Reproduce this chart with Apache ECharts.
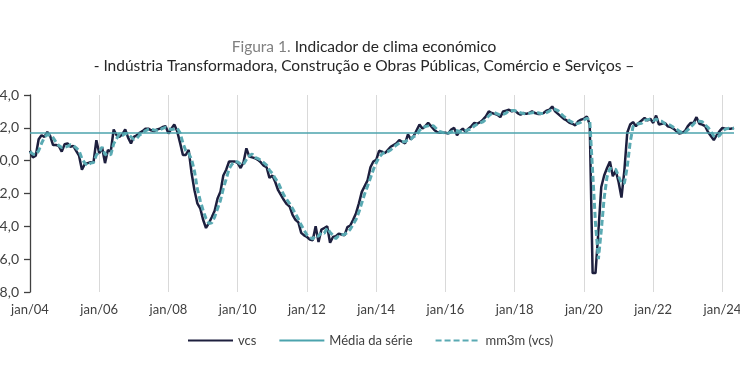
<!DOCTYPE html>
<html>
<head>
<meta charset="utf-8">
<script src="https://cdn.jsdelivr.net/npm/echarts@6/dist/echarts.min.js"></script>
<style>html,body{margin:0;padding:0;background:#fff}#c{width:740px;height:389px}</style>
</head>
<body>
<div id="c"></div>
<script>
// ---- data ----
const startYear = 2004;
const monthCount = 245; // jan/04 .. mai/24
const monthNames = ['jan','fev','mar','abr','mai','jun','jul','ago','set','out','nov','dez'];

const vcs = [
  0.6, 0.2, 0.3, 1.3, 1.55, 1.45, 1.75, 1.5, 0.95, 0.95, 0.9, 0.55,
  1.0, 1.05, 0.85, 0.9, 0.6, 0.3, -0.55, -0.2, -0.15, -0.1, -0.12, 1.25,
  0.45, 0.8, -0.15, 0.65, 0.55, 1.9, 1.55, 1.45, 1.6, 1.9, 1.4, 1.05,
  1.45, 1.55, 1.7, 1.8, 1.95, 1.95, 1.85, 1.8, 1.9, 1.95, 2.05, 2.1,
  1.65, 1.95, 2.2, 1.8, 1.1, 0.35, 0.35, 0.65, -0.75, -1.8, -2.6, -2.9,
  -3.6, -4.1, -3.8, -3.45, -3.05, -2.3, -1.9, -0.9, -0.55, -0.05, -0.05, -0.05,
  -0.15, -0.45, -0.1, 0.75, 0.25, 0.2, 0.15, 0.05, -0.1, -0.3, -0.4, -1.05,
  -0.9, -1.3, -1.8, -2.1, -2.4, -2.65, -2.8, -3.3, -3.6, -3.75, -4.4, -4.55,
  -4.65, -4.8, -4.85, -4.0, -4.95, -4.2, -4.1, -4.0, -5.0, -4.65, -4.6, -4.45,
  -4.5, -4.55, -4.05, -3.95, -3.6, -3.2, -2.6, -1.9, -1.55, -1.2, -0.4, -0.05,
  0.05, 0.6, 0.55, 0.45, 0.65, 0.85, 0.95, 1.05, 1.25, 1.15, 1.05, 1.6,
  1.3, 1.5, 1.85, 2.2, 1.95, 2.1, 2.3, 2.1, 1.9, 1.75, 1.7, 1.7,
  1.7, 1.65, 1.9, 2.0, 1.55, 1.8, 1.95, 1.75, 1.95, 2.1, 2.3, 2.25,
  2.35, 2.5, 2.7, 3.0, 2.9, 2.85, 2.8, 2.65, 3.0, 3.05, 3.1, 3.0,
  3.05, 2.9, 2.8, 2.9, 2.85, 2.9, 3.0, 2.9, 2.85, 2.85, 2.9, 3.05,
  3.1, 3.3, 3.0, 2.85, 2.7, 2.55, 2.45, 2.3, 2.25, 2.15, 2.4, 2.5,
  2.55, 2.7, 2.2, -6.85, -6.85, -4.3, -1.6, -0.9, -0.45, -0.05, -0.95, -0.6,
  -1.3, -2.25, -0.6, 1.7, 2.2, 2.35, 2.1, 2.3, 2.45, 2.6, 2.45, 2.55,
  2.3, 2.75, 2.2, 2.25, 2.3, 2.1, 2.05, 1.95, 1.8, 1.65, 1.7, 1.8,
  2.1, 2.3, 2.3, 2.65, 2.25, 2.2, 2.1, 1.75, 1.5, 1.25, 1.55, 1.8,
  2.0, 1.95, 1.95, 1.95, 2.0
];

const mm3m = [
  0.55, 0.4, 0.37, 0.6, 1.05, 1.43, 1.58, 1.57, 1.4, 1.13, 0.93, 0.8,
  0.82, 0.87, 0.97, 0.93, 0.78, 0.6, 0.12, -0.15, -0.3, -0.15, -0.12, 0.34,
  0.53, 0.83, 0.37, 0.43, 0.35, 1.03, 1.33, 1.63, 1.53, 1.65, 1.63, 1.45,
  1.3, 1.35, 1.57, 1.68, 1.82, 1.9, 1.92, 1.87, 1.85, 1.88, 1.97, 2.03,
  1.93, 1.9, 1.93, 1.98, 1.7, 1.08, 0.6, 0.45, 0.08, -0.63, -1.72, -2.43,
  -3.03, -3.53, -3.83, -3.78, -3.43, -2.93, -2.42, -1.7, -1.12, -0.5, -0.22, -0.05,
  -0.08, -0.22, -0.23, 0.07, 0.3, 0.4, 0.2, 0.13, 0.03, -0.12, -0.27, -0.58,
  -0.78, -1.08, -1.33, -1.73, -2.1, -2.38, -2.62, -2.92, -3.23, -3.55, -3.92, -4.23,
  -4.53, -4.67, -4.77, -4.55, -4.6, -4.38, -4.42, -4.1, -4.37, -4.55, -4.75, -4.57,
  -4.52, -4.5, -4.37, -4.18, -3.87, -3.58, -3.13, -2.57, -2.02, -1.55, -1.05, -0.55,
  -0.13, 0.2, 0.4, 0.53, 0.55, 0.65, 0.82, 0.95, 1.08, 1.15, 1.15, 1.27,
  1.32, 1.47, 1.55, 1.85, 2.0, 2.08, 2.12, 2.17, 2.1, 1.92, 1.78, 1.72,
  1.7, 1.68, 1.75, 1.85, 1.82, 1.78, 1.77, 1.83, 1.88, 1.93, 2.12, 2.22,
  2.3, 2.37, 2.52, 2.73, 2.87, 2.92, 2.85, 2.77, 2.82, 2.9, 3.05, 3.05,
  3.05, 2.98, 2.92, 2.87, 2.85, 2.88, 2.92, 2.93, 2.92, 2.87, 2.87, 2.93,
  3.02, 3.15, 3.13, 3.05, 2.85, 2.7, 2.57, 2.43, 2.33, 2.23, 2.27, 2.35,
  2.48, 2.58, 2.48, -0.65, -3.83, -6.0, -4.25, -2.27, -0.98, -0.47, -0.48, -0.53,
  -0.95, -1.38, -1.38, -0.38, 1.1, 2.08, 2.22, 2.25, 2.28, 2.45, 2.5, 2.53,
  2.43, 2.53, 2.42, 2.4, 2.25, 2.22, 2.15, 2.03, 1.93, 1.8, 1.72, 1.72,
  1.87, 2.07, 2.23, 2.42, 2.4, 2.37, 2.18, 2.02, 1.78, 1.5, 1.43, 1.53,
  1.78, 1.92, 1.97, 1.95, 1.97
];

const serieMean = 1.7;
const yMin = -8, yMax = 4, yStep = 2;

const categories = [];
for (let i = 0; i < monthCount; i++) {
  const y = startYear + Math.floor(i / 12);
  categories.push(monthNames[i % 12] + '/' + String(y % 100).padStart(2, '0'));
}

// ---- chart ----
const FONT = 'Lato';
const chart = echarts.init(document.getElementById('c'), null, {renderer: 'canvas'});
chart.setOption({
  animation: false,
  backgroundColor: '#ffffff',
  textStyle: {fontFamily: FONT},
  title: {
    text: '{g|Figura 1.} {d|Indicador de clima económico}\n{d|- Indústria Transformadora, Construção e Obras Públicas, Comércio e Serviços –}',
    left: 359, top: 32, textAlign: 'center',
    textStyle: {
      fontFamily: FONT, fontWeight: 'normal', fontSize: 15.5, lineHeight: 19,
      rich: {
        g: {color: '#808080', fontFamily: FONT, fontSize: 15.5, lineHeight: 19},
        d: {color: '#262626', fontFamily: FONT, fontSize: 15.5, lineHeight: 19}
      }
    }
  },
  legend: {
    left: 187, top: 334, padding: 0,
    itemWidth: 45, itemHeight: 10, itemGap: 22,
    itemStyle: {opacity: 0},
    textStyle: {color: '#404040', fontSize: 13, fontFamily: FONT},
    data: ['vcs', 'Média da série', 'mm3m (vcs)']
  },
  grid: {left: 30, right: 6, top: 95, bottom: 97, containLabel: false, outerBoundsMode: 'none'},
  xAxis: {
    type: 'category',
    data: categories,
    boundaryGap: false,
    axisLine: {show: false},
    axisTick: {show: false},
    axisLabel: {interval: 23, color: '#404040', fontSize: 13, fontFamily: FONT, margin: 11},
    splitLine: {show: true, interval: 23, lineStyle: {color: '#d9d9d9', width: 1}}
  },
  yAxis: {
    type: 'value',
    min: yMin, max: yMax, interval: yStep,
    axisLine: {show: true, lineStyle: {color: '#404040', width: 1.3}},
    axisTick: {show: true, length: 6, lineStyle: {color: '#404040', width: 1.3}},
    axisLabel: {color: '#404040', fontSize: 14, fontFamily: FONT, margin: 11,
      formatter: v => v.toFixed(1).replace('.', ',')},
    splitLine: {show: false}
  },
  series: [
    {
      name: 'vcs', type: 'line', data: vcs, showSymbol: false, symbol: 'none',
      lineStyle: {color: '#1d1f3e', width: 2.5}, itemStyle: {color: '#1d1f3e'}, z: 2
    },
    {
      name: 'Média da série', type: 'line', data: [], showSymbol: false, symbol: 'none',
      lineStyle: {color: '#4ba3ad', width: 1.6}, itemStyle: {color: '#4ba3ad'}, z: 3,
      markLine: {
        silent: true, symbol: 'none', label: {show: false},
        lineStyle: {color: '#4ba3ad', width: 1.6, type: 'solid'},
        data: [{yAxis: serieMean}]
      }
    },
    {
      name: 'mm3m (vcs)', type: 'line', data: mm3m, showSymbol: false, symbol: 'none',
      lineStyle: {color: '#5aaab3', width: 3, type: [6, 3]}, itemStyle: {color: '#5aaab3'}, z: 4
    }
  ]
});
</script>
</body>
</html>
